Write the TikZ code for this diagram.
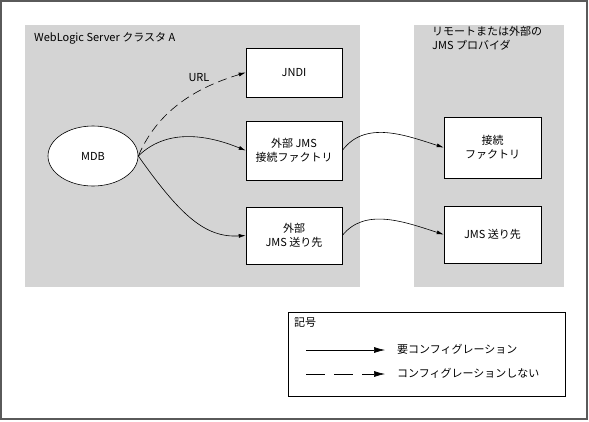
\documentclass[tikz,border=0pt]{standalone}
\usepackage{fontspec}
\setmainfont{Noto Sans CJK JP}
\usetikzlibrary{arrows.meta,shapes.geometric}
\definecolor{panel}{RGB}{212,212,212}
\definecolor{frame}{RGB}{90,90,90}
\tikzset{
  box/.style={draw=black, fill=white, line width=0.6pt, align=center, inner sep=0pt},
  lbl/.style={align=left, inner sep=0pt, anchor=west},
  conn/.style={line width=0.6pt, -{Latex[length=7pt,width=4pt]}},
  opt/.style={conn, dash pattern=on 9pt off 5pt},
  legsolid/.style={line width=0.6pt, -{Latex[length=11pt,width=6pt]}},
  legdash/.style={legsolid, dash pattern=on 19pt off 9pt},
}
\begin{document}
\begin{tikzpicture}[x=1pt, y=-1pt, font=\fontsize{11}{14}\selectfont]
\useasboundingbox (0,0) rectangle (589,421);
\draw[frame, line width=1.5pt] (1,1) rectangle (587,419);
% panels
\fill[panel] (25,25) rectangle (360,287);
\fill[panel] (414,25) rectangle (564,287);
\node[lbl] (lblA) at (34,38) {WebLogic Server クラスタ A};
\node[lbl, anchor=north west] (lblB) at (432,26) {リモートまたは外部の\\JMS プロバイダ};
% nodes
\node[box, ellipse, minimum width=90pt, minimum height=60pt] (mdb) at (93,156) {MDB};
\node[box, minimum width=96pt, minimum height=49pt] (jndi) at (294,72.5) {JNDI};
\node[box, minimum width=96pt, minimum height=59pt] (ecf) at (294,150.5) {外部 JMS\\接続ファクトリ};
\node[box, minimum width=96pt, minimum height=57pt] (edest) at (294,235.5) {外部\\JMS 送り先};
\node[box, minimum width=97pt, minimum height=61pt] (rcf) at (492.5,147.5) {接続\\ファクトリ};
\node[box, minimum width=97pt, minimum height=57pt] (rdest) at (492.5,234.5) {JMS 送り先};
% connectors
\draw[opt] (mdb.east) .. controls (160,105) and (205,85) .. (jndi.west);
\node (url) at (199,78) {URL};
\draw[conn] (mdb.east) .. controls (170,125) and (215,138) .. (ecf.west);
\draw[conn] (mdb.east) .. controls (180,215) and (205,238) .. (edest.west);
\draw[conn] (ecf.east) .. controls (365,120) and (405,135) .. (rcf.west);
\draw[conn] (edest.east) .. controls (365,207) and (405,222) .. (rdest.west);
% legend
\node[box, minimum width=277pt, minimum height=84pt] (legend) at (426.5,354) {};
\node[lbl] (legtitle) at (294,323) {記号};
\coordinate (s1) at (306,350);
\coordinate (e1) at (385,350);
\coordinate (s2) at (306,374);
\coordinate (e2) at (385,374);
\draw[legsolid] (s1) -- (e1);
\draw[legdash] (s2) -- (e2);
\node[lbl] (t1) at (397,349) {要コンフィグレーション};
\node[lbl] (t2) at (397,373) {コンフィグレーションしない};
\end{tikzpicture}
\end{document}
